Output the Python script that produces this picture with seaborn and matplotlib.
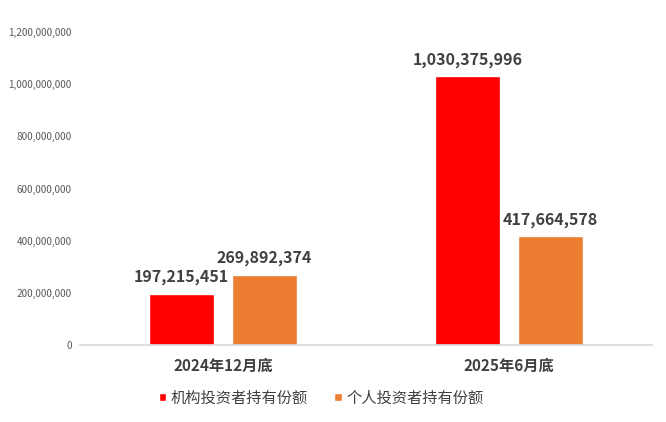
import seaborn as sns
import pandas as pd
import matplotlib.pyplot as plt
from matplotlib.ticker import FuncFormatter

periods = ["2024年12月底", "2025年6月底"]
series = ["机构投资者持有份额", "个人投资者持有份额"]
institutional = [197215451, 1030375996]
individual = [269892374, 417664578]
colors = ["#FF0000", "#ED7D31"]

df = pd.DataFrame({
    "period": periods * 2,
    "type": [series[0]] * 2 + [series[1]] * 2,
    "value": institutional + individual,
})

sns.set_theme(style="white")
plt.rcParams['font.family'] = ['Noto Sans CJK SC', 'DejaVu Sans']

fig = plt.figure(figsize=(6.66, 4.22), dpi=100)
ax = fig.add_axes([0.120, 0.1825, 0.859, 0.7415])

sns.barplot(data=df, x="period", y="value", hue="type", palette=colors,
            saturation=1, width=0.58, gap=0.21, ax=ax, legend=True)

for c in ax.containers:
    ax.bar_label(c, labels=[f"{v:,.0f}" for v in c.datavalues], padding=6,
                 fontsize=11.5, fontweight="bold", color="#404040")

ax.set_ylim(0, 1.2e9)
ax.set_yticks(range(0, 1200000001, 200000000))
ax.yaxis.set_major_formatter(FuncFormatter(lambda v, p: f"{v:,.0f}"))
ax.tick_params(axis="y", labelsize=7.2, labelcolor="#595959", length=0, pad=6)
ax.tick_params(axis="x", labelsize=11, labelcolor="#404040", length=0, pad=9)
for lbl in ax.get_xticklabels():
    lbl.set_fontweight("bold")
ax.set_xlabel("")
ax.set_ylabel("")
sns.despine(ax=ax, left=True)
ax.spines["bottom"].set_color("#d9d9d9")

handles, labels = ax.get_legend_handles_labels()
ax.legend_.remove()
fig.legend(handles, labels, loc="center", bbox_to_anchor=(0.482, 0.057), ncol=2,
           frameon=False, fontsize=11, handlelength=0.5, handleheight=0.5,
           handletextpad=0.3, columnspacing=1.7, labelcolor="#404040")

fig.savefig("out.png", dpi=100)
